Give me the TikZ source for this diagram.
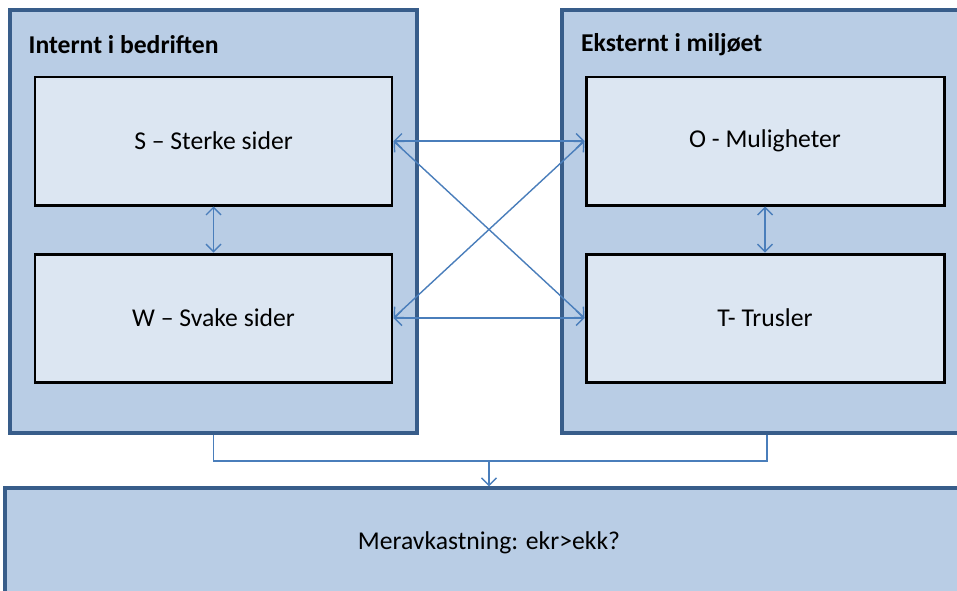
\documentclass[tikz,border=0pt]{standalone}
\usepackage{fontspec}
\setmainfont{Carlito}
\usetikzlibrary{arrows.meta,positioning}
\definecolor{outerfill}{HTML}{B9CDE5}
\definecolor{outerline}{HTML}{385D8A}
\definecolor{innerfill}{HTML}{DCE6F2}
\definecolor{arrowblue}{HTML}{4A7EBB}

\begin{document}
\begin{tikzpicture}[x=1cm, y=-1cm]
			\tikzstyle{every node}=[font=\fontsize{14.6}{17}\selectfont]
			\tikzstyle{outerbox}=[draw=outerline, fill=outerfill, line width=1.8pt, minimum width=8.14cm, minimum height=8.46cm]
			\tikzstyle{innerbox}=[draw=black, fill=innerfill, line width=1.7pt, minimum width=7.14cm, minimum height=2.56cm]
			\tikzstyle{link}=[draw=arrowblue, line width=0.8pt, >={Straight Barb[length=1.5mm,width=3mm]}]
			\useasboundingbox (0,0) rectangle (19.14,11.8);
			\clip (0,0) rectangle (19.14,11.8);
			% the two outer boxes
			\node [outerbox] (intern) at (4.27,4.43) {};
			\node [outerbox, minimum width=8.2cm] (ekstern) at (15.34,4.43) {};
			\node [anchor=west, font=\fontsize{14.6}{17}\selectfont\bfseries] (interntitle) at (0.45,0.9) {Internt i bedriften};
			\node [anchor=west, font=\fontsize{14.6}{17}\selectfont\bfseries] (eksterntitle) at (11.5,0.9) {Eksternt i miljøet};
			% the four SWOT boxes
			\node [innerbox] (S) at (4.27,2.82) {S -- Sterke sider};
			\node [innerbox] (W) at (4.27,6.36) {W -- Svake sider};
			\node [innerbox, minimum width=7.16cm] (O) at (15.30,2.82) {O - Muligheter};
			\node [innerbox, minimum width=7.16cm] (T) at (15.30,6.36) {T- Trusler};
			% result box
			\node [draw=outerline, fill=outerfill, line width=1.8pt, minimum width=19.36cm, minimum height=2.2cm] (merav) at (9.78,10.86) {Meravkastning: ekr>ekk?};
			% arrows between the boxes
			\draw [link, <->] (S.south) -- (W.north);
			\draw [link, <->] (O.south) -- (T.north);
			\draw [link, <->] (S.east) -- (O.west);
			\draw [link, <->] (W.east) -- (T.west);
			\draw [link, <->] (S.east) -- (T.west);
			\draw [link, <->] (W.east) -- (O.west);
			\coordinate (join) at (9.78,9.22);
			\draw [link] (intern.south) |- (join);
			\draw [link] (ekstern.south) |- (join);
			\draw [link, ->] (join) -- (merav.north);
		\end{tikzpicture}
\end{document}
